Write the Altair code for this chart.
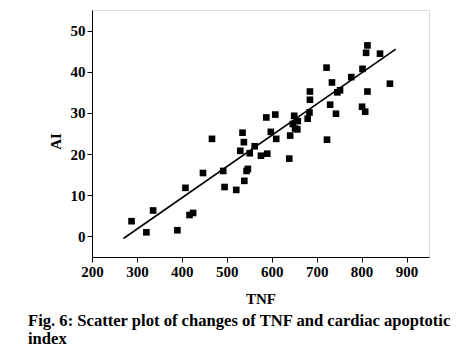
import altair as alt
import pandas as pd

tnf = [288, 321, 336, 390, 408, 417, 425, 447, 467, 492, 495, 521, 530, 535, 538,
       539, 544, 547, 551, 562, 576, 590, 588, 598, 608, 610, 639, 641, 650, 658,
       647, 652, 657, 680, 684, 685, 685, 722, 723, 730, 734, 743, 746, 752, 777,
       801, 802, 808, 810, 813, 813, 841, 863]
ai = [3.7, 1.0, 6.3, 1.5, 11.8, 5.2, 5.7, 15.4, 23.7, 15.9, 12.0, 11.3, 20.8, 25.2, 22.9,
      13.5, 15.9, 16.4, 20.2, 21.9, 19.6, 20.1, 28.9, 25.4, 29.6, 23.7, 18.9, 24.5, 29.3, 28.0,
      27.3, 26.2, 26.0, 28.6, 30.1, 33.2, 35.2, 41.0, 23.5, 32.0, 37.4, 29.8, 35.0, 35.5, 38.7,
      31.5, 40.7, 30.3, 44.6, 46.4, 35.2, 44.4, 37.1]

fit_x = [270, 876]
fit_y = [-0.5, 45.5]

x_ticks = list(range(200, 951, 50))
y_ticks = list(range(0, 51, 5))

pts = pd.DataFrame({"TNF": tnf, "AI": ai})
fit = pd.DataFrame({"TNF": fit_x, "AI": fit_y})

FONT = "Liberation Serif"

xscale = alt.Scale(domain=[200, 950], nice=False, zero=False)
yscale = alt.Scale(domain=[-5, 55], nice=False, zero=False)

xaxis = alt.Axis(
    values=x_ticks,
    labelExpr="datum.value % 100 === 0 ? datum.label : ''",
    tickSize={"condition": {"test": "datum.value % 100 === 0", "value": 5}, "value": 3},
    grid=False, domainColor="black", tickColor="black", labelColor="black",
    labelFont=FONT, labelFontSize=15, labelFontWeight="bold", labelPadding=2,
    title="TNF", titleFont=FONT, titleFontSize=15, titleFontWeight="bold",
    titleColor="black", titlePadding=12, labelFlush=False,
)
yaxis = alt.Axis(
    values=y_ticks,
    labelExpr="datum.value % 10 === 0 ? datum.label : ''",
    tickSize={"condition": {"test": "datum.value % 10 === 0", "value": 5}, "value": 3},
    grid=False, domainColor="black", tickColor="black", labelColor="black",
    labelFont=FONT, labelFontSize=15, labelFontWeight="bold", labelPadding=2,
    title="AI", titleFont=FONT, titleFontSize=15, titleFontWeight="bold",
    titleColor="black", titlePadding=7, titleY=131, labelFlush=False,
)

points = alt.Chart(pts).mark_point(shape="square", filled=True, color="black",
                                   opacity=1, size=44).encode(
    x=alt.X("TNF:Q", scale=xscale, axis=xaxis),
    y=alt.Y("AI:Q", scale=yscale, axis=yaxis),
)
line = alt.Chart(fit).mark_line(color="black", strokeWidth=1.6).encode(
    x=alt.X("TNF:Q", scale=xscale),
    y=alt.Y("AI:Q", scale=yscale),
)

chart = alt.layer(line, points).properties(
    width=337, height=247,
    autosize=alt.AutoSizeParams(type="none"),
    padding={"left": 92, "top": 10, "right": 37, "bottom": 94},
    title=alt.TitleParams(
        text=["Fig. 6: Scatter plot of changes of TNF and cardiac apoptotic", "index"],
        orient="bottom", anchor="start", dx=-20, offset=7,
        font=FONT, fontSize=16.6, fontWeight="bold", color="black", lineHeight=18,
    ),
).configure_view(stroke=None).configure(background="white")

chart.save("out.html", embed_options={"renderer": "svg", "actions": False})
